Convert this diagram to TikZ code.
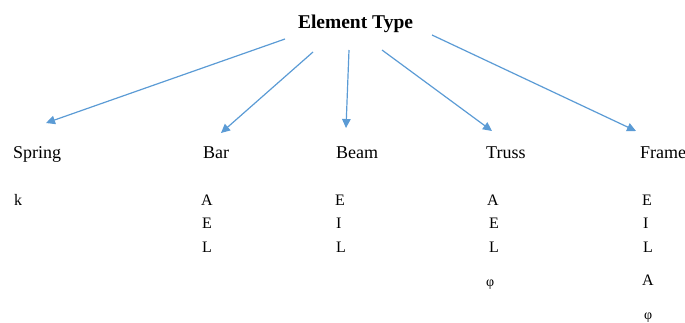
\documentclass[tikz,border=0pt]{standalone}
\usepackage{fontspec}
\setmainfont{Liberation Serif}
\usetikzlibrary{arrows.meta}
\definecolor{arrowblue}{RGB}{91,155,213}
\begin{document}
\begin{tikzpicture}[x=1pt,y=-1pt,
  lbl/.style={anchor=base west,inner sep=0pt,font=\fontsize{18}{21}\selectfont},
  par/.style={anchor=base west,inner sep=0pt,font=\fontsize{16}{19}\selectfont},
  phi/.style={anchor=base west,inner sep=0pt,font=\fontsize{14}{16}\selectfont},
  arr/.style={draw=arrowblue,line width=1.2pt,-{Triangle[length=9pt,width=8.5pt]}}]
\useasboundingbox (0,0) rectangle (685,322);
\node[anchor=base,inner sep=0pt,font=\fontsize{19.5}{22}\bfseries] (title) at (355.5,28) {Element Type};
% labels
\node[lbl] (spring) at (13,158) {Spring};
\node[lbl] (bar) at (203,158) {Bar};
\node[lbl] (beam) at (336,158) {Beam};
\node[lbl] (truss) at (486,158) {Truss};
\node[lbl] (frame) at (640,158) {Frame};
% parameters
\node[par] (k) at (14,205) {k};
\node[par] (barA) at (201,205) {A};
\node[par] (barE) at (202,228) {E};
\node[par] (barL) at (202,252) {L};
\node[par] (beamE) at (335,205) {E};
\node[par] (beamI) at (336,228) {I};
\node[par] (beamL) at (336,252) {L};
\node[par] (trussA) at (487,205) {A};
\node[par] (trussE) at (489,228) {E};
\node[par] (trussL) at (489,252) {L};
\node[phi] (trussP) at (486,286) {φ};
\node[par] (frameE) at (642,205) {E};
\node[par] (frameI) at (643,228) {I};
\node[par] (frameL) at (643,252) {L};
\node[par] (frameA) at (642,285) {A};
\node[phi] (frameP) at (644,319) {φ};
% arrow endpoints
\coordinate (s1) at (285,39);
\coordinate (e1) at (46,123);
\coordinate (s2) at (313,52);
\coordinate (e2) at (221,133);
\coordinate (s3) at (349,50);
\coordinate (e3) at (346,128);
\coordinate (s4) at (382,50);
\coordinate (e4) at (492,131);
\coordinate (s5) at (432,35);
\coordinate (e5) at (636,131);
\draw[arr] (s1) -- (e1);
\draw[arr] (s2) -- (e2);
\draw[arr] (s3) -- (e3);
\draw[arr] (s4) -- (e4);
\draw[arr] (s5) -- (e5);
\end{tikzpicture}
\end{document}
